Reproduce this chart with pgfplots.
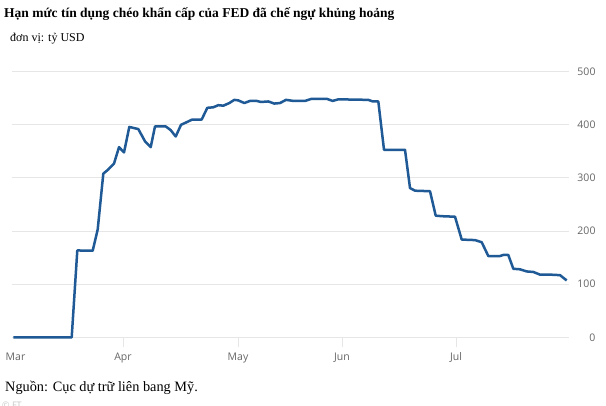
\documentclass[border=0pt]{standalone}
\usepackage{pgfplots}
\pgfplotsset{compat=1.18}
\usepackage{fontspec}
\setmainfont{Liberation Serif}
\newfontfamily\tickfont{Open Sans}
\definecolor{ftblue}{HTML}{1F5A96}
\definecolor{gridgray}{HTML}{E6E6E6}
\definecolor{labelgray}{HTML}{666666}

\begin{document}
\begin{tikzpicture}[x=1bp,y=1bp]
\useasboundingbox (0,0) rectangle (606,405);
\clip (0,0) rectangle (606,405);
\fill[white] (0,0) rectangle (606,405);

\node[anchor=base west, inner sep=0pt, font=\fontsize{13.5bp}{16bp}\selectfont\bfseries]
  at (4,387.7) {Hạn mức tín dụng chéo khẩn cấp của FED đã chế ngự khủng hoảng};
\node[anchor=base west, inner sep=0pt, font=\fontsize{12bp}{14bp}\selectfont]
  at (10,363.3) {đơn vị: tỷ USD};

\begin{axis}[
    at={(12bp,67.7bp)}, anchor=south west,
    scale only axis,
    width=557bp, height=265.6bp,
    xmin=12, xmax=569,
    ymin=0, ymax=500,
    axis line style={draw=none},
    ytick={0,100,200,300,400,500},
    yticklabel pos=right,
    ytick style={draw=none},
    ymajorgrids=true,
    grid style={color=gridgray, line width=0.9bp},
    xtick={123,238,342,456},
    xticklabels={Apr,May,Jun,Jul},
    extra x ticks={15.5},
    extra x tick labels={Mar},
    extra x tick style={xtick style={draw=none}, grid=none},
    xtick pos=bottom,
    xtick align=outside,
    major tick length=10bp,
    xtick style={color=gridgray, line width=0.9bp},
    tick label style={font=\tickfont\fontsize{10.5bp}{12bp}\selectfont, text=labelgray},
    xticklabel style={yshift=-2bp},
    yticklabel style={anchor=east, xshift=30bp},
    /pgf/number format/assume math mode=true,
    clip=false,
]
\addplot[color=ftblue, line width=2.5bp, line join=round] coordinates {
(13.3,0) (71.7,0) (77.3,163.5) (92.7,163) (97.7,203) (103.3,308) (108.3,316)
(114,327) (119,358) (124,348) (129.3,396) (138.3,392) (145,369) (150.7,358)
(155,397) (165.7,397) (170.7,390) (175.7,378) (181,400) (186.7,405) (192.3,410)
(201.7,410) (207.3,432) (213.3,433) (218.3,437) (223.3,436) (229.3,441) (234.3,447)
(238.3,446) (244.3,441) (250,445) (256.7,445) (261,443) (268.3,444) (274.3,440)
(280,441) (286,447) (293.3,445) (305,445) (311.7,449) (326.7,449) (332.7,445)
(338.3,448) (368.3,447) (372.7,444) (378.3,444) (384,353) (405,353) (410,281)
(415,276) (430,275) (435.7,229) (441.7,228) (455,227) (461.7,184) (475,183)
(481.7,179) (488.3,153) (500,153) (503.3,155) (508.3,155) (513.3,129) (520,128)
(526.7,124) (533.3,123) (540,118) (550,118) (560,117) (566.7,107)
};
\end{axis}

\node[anchor=base west, inner sep=0pt, font=\fontsize{14.3bp}{16bp}\selectfont]
  at (5,13.3) {Nguồn: Cục dự trữ liên bang Mỹ.};
\node[anchor=north west, inner sep=0pt, text=gray!45, font=\tickfont\fontsize{9bp}{10bp}\selectfont]
  at (2,3) {© FT};
\end{tikzpicture}
\end{document}
